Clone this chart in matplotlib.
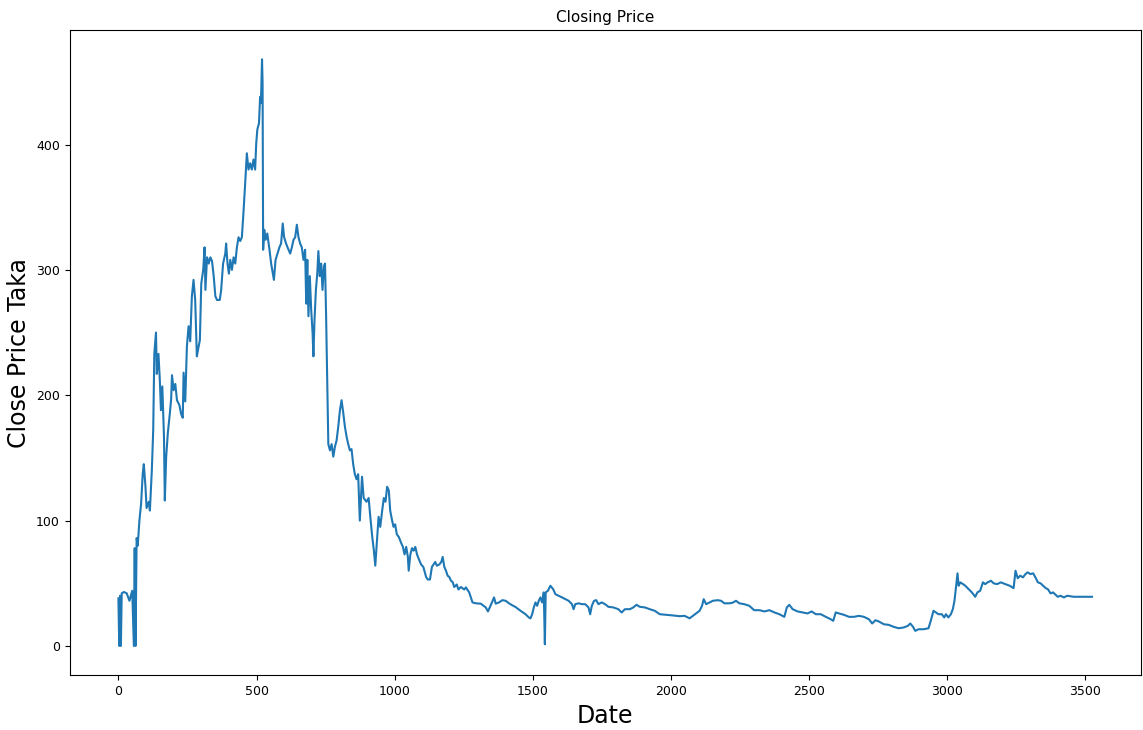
import matplotlib
matplotlib.use("Agg")
import matplotlib.pyplot as plt

# closing price (trading-day index, price in Taka)
day = [0, 3, 6, 9, 12, 20, 30, 40, 50, 56, 59, 62, 66, 70, 76, 82, 88, 92, 98, 102,
       110, 114, 121, 126, 130, 136, 139, 145, 150, 154, 159, 165, 168, 173, 179, 186,
       191, 194, 200, 206, 212, 221, 227, 233, 236, 242, 248, 254, 260, 266, 272, 278,
       284, 288, 295, 300, 307, 312, 315, 321, 327, 333, 339, 345, 351, 357, 367, 372,
       379, 387, 390, 395, 400, 405, 411, 417, 423, 429, 435, 441, 447, 452, 459, 465,
       471, 477, 483, 489, 495, 499, 503, 509, 513, 516, 520, 522, 524, 528, 533, 539,
       547, 553, 559, 563, 569, 576, 583, 589, 595, 600, 607, 616, 622, 628, 634, 640,
       646, 652, 658, 664, 670, 676, 680, 684, 688, 693, 698, 703, 706, 710, 715, 720,
       724, 729, 734, 739, 744, 748, 752, 760, 766, 772, 778, 784, 790, 796, 802, 808,
       814, 820, 826, 832, 838, 844, 850, 856, 862, 868, 874, 878, 882, 888, 898, 906,
       912, 919, 925, 930, 936, 942, 948, 955, 961, 967, 973, 979, 984, 990, 996, 1002,
       1008, 1015, 1024, 1030, 1036, 1042, 1048, 1051, 1057, 1063, 1069, 1075, 1081,
       1090, 1096, 1104, 1114, 1120, 1128, 1135, 1141, 1147, 1153, 1162, 1169, 1174,
       1180, 1186, 1192, 1198, 1204, 1210, 1216, 1225, 1231, 1240, 1252, 1258, 1270,
       1282, 1294, 1312, 1330, 1338, 1348, 1360, 1366, 1378, 1390, 1402, 1414, 1426,
       1438, 1456, 1474, 1486, 1492, 1498, 1504, 1510, 1516, 1522, 1528, 1534, 1540,
       1544, 1547, 1555, 1564, 1574, 1582, 1594, 1606, 1618, 1630, 1642, 1648, 1654,
       1666, 1678, 1690, 1702, 1708, 1714, 1722, 1730, 1738, 1750, 1762, 1774, 1792,
       1810, 1822, 1834, 1852, 1864, 1876, 1888, 1906, 1924, 1942, 1960, 1984, 2008,
       2032, 2050, 2068, 2080, 2092, 2104, 2113, 2119, 2128, 2140, 2152, 2170, 2182,
       2194, 2212, 2224, 2236, 2248, 2266, 2284, 2302, 2321, 2339, 2357, 2375, 2393,
       2411, 2420, 2429, 2441, 2459, 2477, 2495, 2510, 2525, 2543, 2561, 2579, 2588,
       2597, 2609, 2627, 2645, 2663, 2681, 2699, 2717, 2729, 2741, 2753, 2771, 2789,
       2807, 2825, 2843, 2858, 2867, 2877, 2885, 2897, 2915, 2933, 2941, 2951, 2960,
       2969, 2981, 2990, 2996, 3005, 3014, 3021, 3027, 3033, 3038, 3042, 3048, 3058,
       3066, 3078, 3090, 3102, 3110, 3120, 3130, 3138, 3147, 3159, 3169, 3181, 3195,
       3211, 3227, 3241, 3248, 3256, 3265, 3275, 3284, 3292, 3302, 3312, 3320, 3329,
       3339, 3348, 3357, 3365, 3375, 3384, 3393, 3401, 3411, 3423, 3435, 3459, 3525]

close = [38, 0, 40, 0, 42, 43, 42, 36, 44, 0, 78, 0, 86, 80, 100, 113, 137, 145, 127, 110,
         115, 108, 140, 172, 233, 250, 217, 233, 212, 188, 207, 167, 116, 151, 170, 185,
         197, 216, 204, 209, 196, 192, 185, 182, 218, 195, 239, 255, 243, 279, 292, 276,
         231, 236, 244, 289, 300, 318, 284, 310, 305, 310, 307, 295, 279, 276, 276, 284,
         305, 313, 321, 305, 297, 308, 300, 310, 305, 318, 326, 323, 326, 343, 369, 393,
         380, 385, 380, 388, 380, 401, 412, 417, 438, 433, 468, 449, 316, 332, 324, 329,
         316, 305, 297, 292, 308, 313, 318, 321, 337, 326, 321, 316, 313, 318, 324, 326,
         336, 326, 321, 318, 308, 316, 273, 308, 263, 295, 268, 250, 231, 260, 284, 297,
         315, 295, 305, 284, 303, 305, 263, 161, 156, 161, 151, 159, 164, 175, 188, 196,
         186, 175, 167, 161, 156, 157, 145, 137, 133, 137, 100, 118, 135, 118, 115, 118,
         103, 87, 76, 64, 84, 103, 95, 108, 118, 115, 127, 124, 108, 101, 95, 97,
         89, 87, 82, 79, 73, 79, 71, 60, 73, 78, 76, 79, 73,
         68, 65, 63, 55, 53, 53, 63, 65, 67, 64, 65, 67, 71,
         63, 60, 56, 55, 52, 51, 47, 49, 45, 47, 45, 46.7, 42.7,
         34.7, 34, 33.7, 30.7, 27.5, 32.4, 38.7, 33.7, 34.7, 36.5, 36, 34, 32.4,
         31, 28, 25.3, 22.7, 22, 25.3, 30.7, 34.7, 32, 36, 38.7, 34.7, 42.7,
         1.3, 42.7, 44, 48, 45.3, 41.3, 40, 38.7, 37.3, 36, 33.3, 29.3, 33.3,
         34, 33.3, 33.3, 30.7, 25.3, 32, 36, 36.5, 33.3, 34.7, 33.3, 31.2, 30.7,
         29.3, 26.7, 29.3, 29.3, 30.7, 32.8, 31.2, 30.7, 29.3, 28, 25.3, 24.8, 24.3,
         23.7, 24, 22, 24, 25.9, 28, 32, 37.3, 33.3, 34.7, 36, 36.5, 36,
         34, 34, 34.5, 36, 34, 33.3, 32, 28.5, 28.5, 27.5, 28.5, 26.7, 25.3,
         23.2, 30.7, 32.8, 29.3, 27.5, 26.7, 25.9, 27.5, 25.3, 25.3, 23.2, 21.3, 20,
         26.7, 25.9, 24.8, 23.2, 23.2, 24, 23.2, 21.3, 17.9, 20.5, 19.5, 17.3, 16.8,
         15.2, 14.1, 14.7, 16, 17.9, 15.2, 12, 13.3, 13.3, 14.1, 20, 28, 26.7,
         25.3, 25.3, 22.7, 25.3, 22.7, 25.3, 29.3, 36, 48, 57.9, 48, 50.7, 49.3,
         48, 45.3, 42.7, 39.2, 42.7, 44, 50.7, 49.3, 50.7, 52, 49.9, 49.3, 50.7,
         49.3, 48, 46.1, 60, 54, 56, 54.7, 57.3, 58.7, 57.3, 57.9, 54.7, 50.7,
         49.9, 48, 46.1, 45.3, 41.9, 42.7, 40.8, 39.2, 40, 38.7, 40, 39.2, 39.2]

fig, ax = plt.subplots(figsize=(11.43, 7.3), dpi=100)
fig.subplots_adjust(left=0.061, right=0.998, top=0.959, bottom=0.075)

ax.plot(day, close, color='#1f77b4', linewidth=1.5)

ax.set_title('Closing Price', fontsize=11)
ax.set_xlabel('Date', fontsize=17)
ax.set_ylabel('Close Price Taka', fontsize=17)
ax.set_xticks([0, 500, 1000, 1500, 2000, 2500, 3000, 3500])
ax.set_yticks([0, 100, 200, 300, 400])
ax.tick_params(labelsize=9)

fig.savefig('out.png', dpi=100)
